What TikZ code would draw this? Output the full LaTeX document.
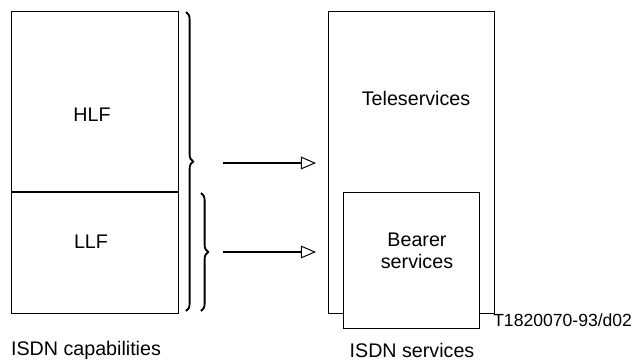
\documentclass[tikz,border=0pt]{standalone}
\usepackage{fontspec}
\setmainfont{Liberation Sans}
\usetikzlibrary{arrows.meta,decorations.pathreplacing,positioning}

\begin{document}
\begin{tikzpicture}[x=0.025cm, y=-0.025cm, font=\fontsize{14}{15.5}\selectfont,
	    box/.style={draw, line width=0.7pt},
	    brc/.style={decorate, decoration={brace, amplitude=0.18cm}, line width=1.3pt},
	    flow/.style={line width=1.1pt, -{Triangle[open, length=0.38cm, width=0.32cm, line width=0.7pt]}}]
	    \useasboundingbox (0,0) rectangle (637,363);

		% capabilities
		\draw[box] (11,11) rectangle (178,313);
		\draw[line width=1.1pt] (11,192) -- (178,192);
		\node (hlf) at (92,115) {HLF};
		\node (llf) at (91,242) {LLF};
		\draw[brc] (186,12) -- (186,311);
		\draw[brc] (201,193) -- (201,311);

		% services
		\draw[box] (328,11) rectangle (494,313);
		\draw[box, fill=white] (343,192) rectangle (479,328);
		\node (tele) at (416,98) {Teleservices};
		\node[align=center] (bearer) at (417,251) {Bearer\\services};

		% arrows
		\coordinate (hlfout) at (223,163);
		\coordinate (llfout) at (223,252);
		\coordinate (telein) at (316,163);
		\coordinate (bearerin) at (316,252);
		\draw[flow] (hlfout) -- (telein);
		\draw[flow] (llfout) -- (bearerin);

		\node (caps) at (86,350) {ISDN capabilities};
		\node (servs) at (412,350) {ISDN services};
		\node[anchor=east, font=\fontsize{12.5}{14}\selectfont] (ref) at (637,320) {T1820070-93/d02};
	  \end{tikzpicture}
\end{document}
